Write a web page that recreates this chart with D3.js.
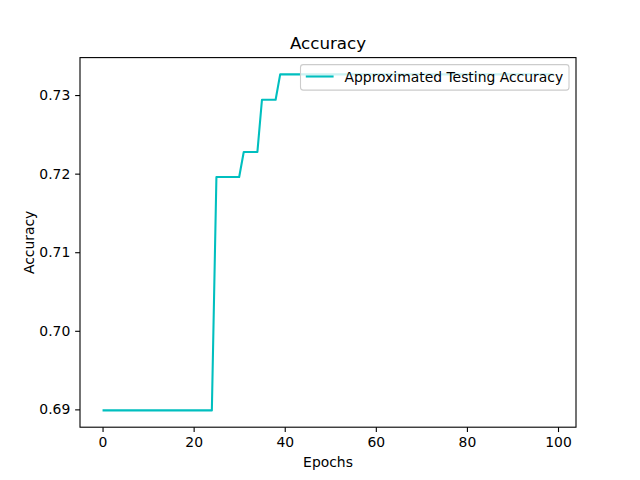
<!DOCTYPE html>
<html>
<head>
<meta charset="utf-8">
<script src="https://cdn.jsdelivr.net/npm/d3@7"></script>
<style>
  body { margin: 0; background: #fff; }
  text { font-family: "DejaVu Sans", sans-serif; fill: #000; }
</style>
</head>
<body>
<div id="chart"></div>
<script>
// approximated testing accuracy per epoch (0..99)
var accuracy = [
  0.68987, 0.68987, 0.68987, 0.68987, 0.68987, 0.68987, 0.68987, 0.68987, 0.68987, 0.68987,
  0.68987, 0.68987, 0.68987, 0.68987, 0.68987, 0.68987, 0.68987, 0.68987, 0.68987, 0.68987,
  0.68987, 0.68987, 0.68987, 0.68987, 0.68987, 0.71958, 0.71958, 0.71958, 0.71958, 0.71958,
  0.71958, 0.72276, 0.72276, 0.72276, 0.72276, 0.72940, 0.72940, 0.72940, 0.72940, 0.73263,
  0.73263, 0.73263, 0.73263, 0.73263, 0.73263, 0.73263, 0.73263, 0.73263, 0.73263, 0.73263,
  0.73263, 0.73263, 0.73263, 0.73263, 0.73263, 0.73263, 0.73263, 0.73263, 0.73263, 0.73263,
  0.73263, 0.73263, 0.73263, 0.73263, 0.73263, 0.73263, 0.73263, 0.73263, 0.73263, 0.73263,
  0.73263, 0.73263, 0.73263, 0.73263, 0.73263, 0.73263, 0.73263, 0.73263, 0.73263, 0.73263,
  0.73263, 0.73263, 0.73263, 0.73263, 0.73263, 0.73263, 0.73263, 0.73263, 0.73263, 0.73263,
  0.73263, 0.73263, 0.73263, 0.73263, 0.73263, 0.73263, 0.73263, 0.73263, 0.73263, 0.73263
];
var xTicks = [0, 20, 40, 60, 80, 100];
var yTicks = [0.69, 0.70, 0.71, 0.72, 0.73];
var seriesName = "Approximated Testing Accuracy";

var width = 640, height = 480;
var axLeft = 80, axRight = 576, axTop = 57.6, axBottom = 427.2;
var fs = 13.9;

var svg = d3.select("#chart")
    .append("svg")
    .attr("width", width)
    .attr("height", height);

// matplotlib style 5% margins
var xmin = 0, xmax = accuracy.length - 1;
var xpad = (xmax - xmin) * 0.05;
var ymin = d3.min(accuracy), ymax = d3.max(accuracy);
var ypad = (ymax - ymin) * 0.05;

var x = d3.scaleLinear().domain([xmin - xpad, xmax + xpad]).range([axLeft, axRight]);
var y = d3.scaleLinear().domain([ymin - ypad, ymax + ypad]).range([axBottom, axTop]);

// line
var line = d3.line()
    .x(function(d, i) { return x(i); })
    .y(function(d) { return y(d); });

svg.append("path")
    .datum(accuracy)
    .attr("fill", "none")
    .attr("stroke", "#00bfbf")
    .attr("stroke-width", 2.08)
    .attr("stroke-linejoin", "round")
    .attr("d", line);

// axes
var xAxis = d3.axisBottom(x).tickValues(xTicks).tickSize(4.86).tickPadding(4.86)
    .tickFormat(d3.format("d"));
var yAxis = d3.axisLeft(y).tickValues(yTicks).tickSize(4.86).tickPadding(4.86)
    .tickFormat(d3.format(".2f"));

var gx = svg.append("g").attr("transform", "translate(0," + axBottom + ")").call(xAxis);
var gy = svg.append("g").attr("transform", "translate(" + axLeft + ",0)").call(yAxis);

[gx, gy].forEach(function(g) {
  g.select(".domain").remove();
  g.selectAll(".tick line").attr("stroke", "#000").attr("stroke-width", 1.1);
  g.selectAll(".tick text").style("font-size", fs + "px")
    .style("font-family", "DejaVu Sans").attr("fill", "#000");
});

// frame
svg.append("rect")
    .attr("x", axLeft).attr("y", axTop)
    .attr("width", axRight - axLeft).attr("height", axBottom - axTop)
    .attr("fill", "none").attr("stroke", "#000").attr("stroke-width", 1.1);

// legend
var lg = svg.append("g");
lg.append("rect")
    .attr("x", 300.5).attr("y", 64.6)
    .attr("width", 268.5).attr("height", 25.5)
    .attr("rx", 2.8)
    .attr("fill", "#fff").attr("fill-opacity", 0.8)
    .attr("stroke", "#cccccc").attr("stroke-width", 1.1);
lg.append("line")
    .attr("x1", 305.8).attr("x2", 333.6)
    .attr("y1", 76.5).attr("y2", 76.5)
    .attr("stroke", "#00bfbf").attr("stroke-width", 2.08);
lg.append("text")
    .attr("x", 344.5).attr("y", 81.5)
    .style("font-size", fs + "px")
    .text(seriesName);

// titles
svg.append("text")
    .attr("x", (axLeft + axRight) / 2).attr("y", 49.3)
    .attr("text-anchor", "middle")
    .style("font-size", "16.7px")
    .text("Accuracy");

svg.append("text")
    .attr("x", (axLeft + axRight) / 2).attr("y", 466.7)
    .attr("text-anchor", "middle")
    .style("font-size", fs + "px")
    .text("Epochs");

svg.append("text")
    .attr("transform", "translate(33.5," + (axTop + axBottom) / 2 + ") rotate(-90)")
    .attr("text-anchor", "middle")
    .style("font-size", fs + "px")
    .text("Accuracy");
</script>
</body>
</html>
